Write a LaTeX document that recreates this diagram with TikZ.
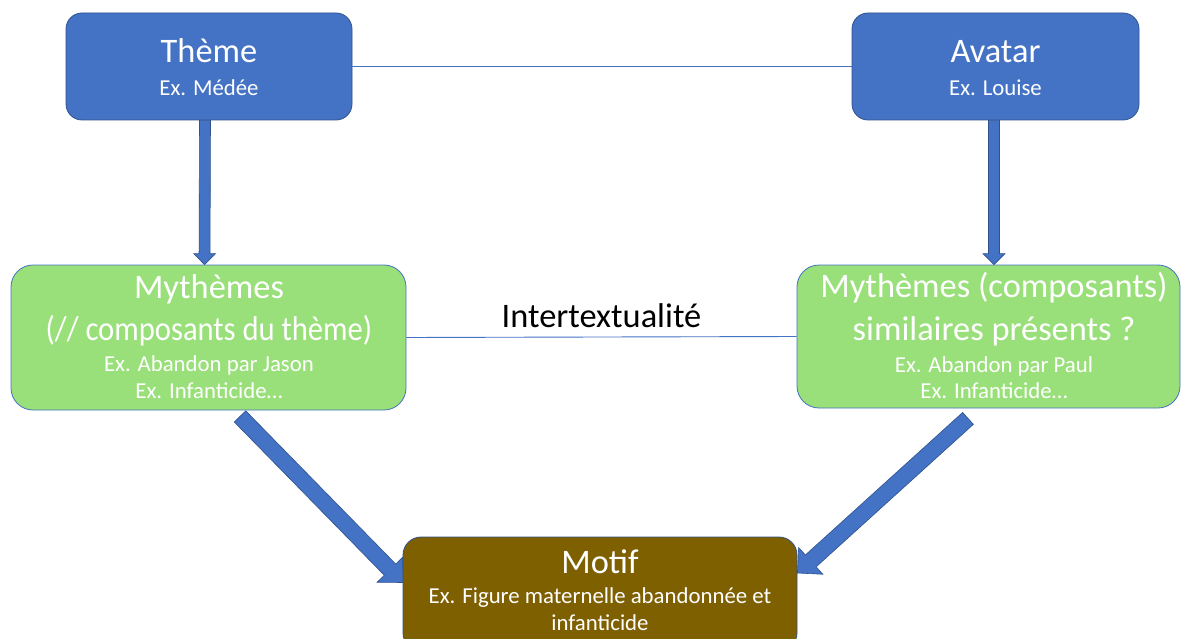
\documentclass[tikz,border=0pt]{standalone}
\usepackage{fontspec}
\setmainfont{Carlito}
\usetikzlibrary{calc,backgrounds}
\definecolor{boxblue}{RGB}{68,114,196}
\definecolor{boxblueborder}{RGB}{47,82,143}
\definecolor{boxgreen}{RGB}{153,224,122}
\definecolor{boxbrown}{RGB}{127,96,0}
\definecolor{linkblue}{RGB}{68,114,196}
\newcommand\blockarrow[5]{%
  \fill[blockarr]
    ($(#1)!#3!90:(#2)$) --
    ($($(#2)!#5!(#1)$)!#3!-90:(#1)$) --
    ($($(#2)!#5!(#1)$)!#4!-90:(#1)$) --
    (#2) --
    ($($(#2)!#5!(#1)$)!#4!90:(#1)$) --
    ($($(#2)!#5!(#1)$)!#3!90:(#1)$) --
    ($(#1)!#3!-90:(#2)$) -- cycle;}
\tikzset{
  bluebox/.style={draw=boxblueborder, line width=0.8pt, fill=boxblue, rounded corners=16pt, inner sep=0pt},
  greenbox/.style={draw=boxblue, line width=0.8pt, fill=boxgreen, rounded corners=22pt, inner sep=0pt},
  brownbox/.style={draw=boxblueborder, line width=0.8pt, fill=boxbrown, rounded corners=18pt, inner sep=0pt},
  ttl/.style={font=\fontsize{34.4}{40}\selectfont, text=white, anchor=base, inner sep=0pt},
  sub/.style={font=\fontsize{22.8}{27}\selectfont, text=white, anchor=base, inner sep=0pt},
  link/.style={draw=linkblue, line width=0.9pt},
  linklabel/.style={font=\fontsize{34.4}{40}\selectfont, text=black, anchor=base, inner sep=0pt},
  blockarr/.style={fill=boxblue, draw=boxblueborder, line width=0.6pt, line join=miter}
}
\begin{document}
\begin{tikzpicture}[x=1pt,y=-1pt]
\useasboundingbox (0,0) rectangle (1182,639);
\clip (0,0) rectangle (1182,639);
% boxes
\node[bluebox, minimum width=286pt, minimum height=107pt] (theme) at (209,66.5) {};
\node[bluebox, minimum width=287pt, minimum height=107pt] (avatar) at (995.5,66.5) {};
\node[greenbox, minimum width=395pt, minimum height=145pt] (myl) at (208.5,337.5) {};
\node[greenbox, minimum width=383pt, minimum height=143pt] (myr) at (988.5,336.5) {};
\node[brownbox, minimum width=394pt, minimum height=114pt] (motif) at (600,594) {};
% texts
\node[ttl] (themet) at (209,63) {Thème};
\node[sub] (themes) at (209,96) {Ex. Médée};
\node[ttl] (avatart) at (995.5,63) {Avatar};
\node[sub] (avatars) at (995.5,96) {Ex. Louise};
\node[ttl] (mylt1) at (209,298) {Mythèmes};
\node[ttl] (mylt2) at (209,340) {\scalebox{0.89}[1]{(// composants du thème)}};
\node[sub] (myls1) at (209,371) {Ex. Abandon par Jason};
\node[sub] (myls2) at (209,398) {Ex. Infanticide…};
\node[ttl] (myrt1) at (994,297) {Mythèmes (composants)};
\node[ttl] (myrt2) at (994,340) {similaires présents ?};
\node[sub] (myrs1) at (994,372) {Ex. Abandon par Paul};
\node[sub] (myrs2) at (994,398) {Ex. Infanticide…};
\node[ttl] (motift) at (600,573) {Motif};
\node[sub] (motifs1) at (600,603) {Ex. Figure maternelle abandonnée et};
\node[sub] (motifs2) at (600,630) {infanticide};
% links
\draw[link] (theme.east) -- (avatar.east -| avatar.west);
\draw[link] (myl.east) -- (myr.west) node[linklabel, pos=0.5, yshift=10pt] (inter) {Intertextualité};
% arrows
\coordinate (a1s) at ([xshift=-4pt]theme.south);
\coordinate (a1e) at ([xshift=-4pt]myl.north);
\coordinate (a2s) at ([xshift=-1.5pt]avatar.south);
\coordinate (a2e) at ([xshift=5.5pt]myr.north);
\coordinate (a3s) at ([xshift=31.5pt,yshift=-6pt]myl.south);
\coordinate (a3e) at ([yshift=11.5pt]motif.west);
\coordinate (a4s) at ([xshift=-20.5pt,yshift=-10pt]myr.south);
\coordinate (a4e) at ([yshift=21pt]motif.east);
\begin{scope}[on background layer]
\fill[white] (0,0) rectangle (1182,639);
\blockarrow{a1s}{a1e}{5.5pt}{11pt}{11pt}
\blockarrow{a2s}{a2e}{5.5pt}{11pt}{11pt}
\blockarrow{a3s}{a3e}{8pt}{18pt}{18pt}
\blockarrow{a4s}{a4e}{8pt}{18pt}{18pt}
\end{scope}
\end{tikzpicture}
\end{document}
